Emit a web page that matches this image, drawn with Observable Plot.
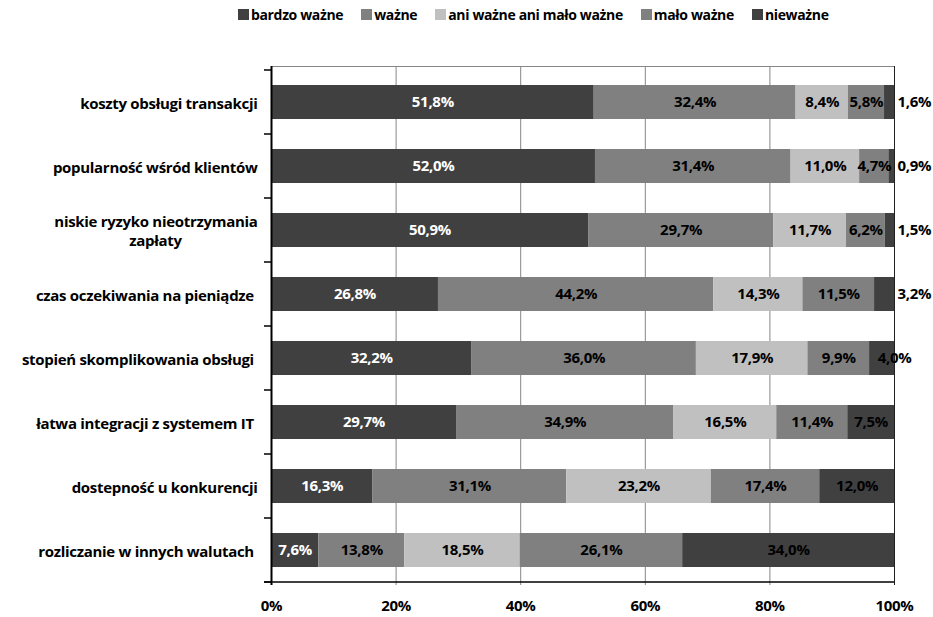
<!DOCTYPE html>
<html>
<head>
<meta charset="utf-8">
<script src="https://cdn.jsdelivr.net/npm/d3@7"></script>
<script src="https://cdn.jsdelivr.net/npm/@observablehq/plot@0.6"></script>
<style>
  html, body { margin: 0; padding: 0; background: #fff; }
  #wrap { position: relative; width: 933px; height: 617px; font-family: "Open Sans", "Noto Sans", sans-serif; }
  #chart { position: absolute; top: 0; left: 0; z-index: 0; }
  #legend { position: absolute; top: 5px; left: 238px; z-index: 1; display: flex; align-items: center; font-weight: bold; font-size: 14px; color: #000; white-space: nowrap; letter-spacing: -0.35px; }
  #legend .item { display: flex; align-items: center; margin-right: 18px; }
  #legend .sw { width: 11px; height: 11px; margin-right: 2px; }
</style>
</head>
<body>
<div id="wrap">
  <div id="chart"></div>
  <div id="legend"></div>
</div>
<script>
// Factors rated by respondents (top to bottom)
const factors = [
  "koszty obsługi transakcji",
  "popularność wśród klientów",
  "niskie ryzyko nieotrzymania\nzapłaty",
  "czas oczekiwania na pieniądze ",
  "stopień skomplikowania obsługi ",
  "łatwa integracji z systemem IT ",
  "dostepność u konkurencji",
  "rozliczanie w innych walutach "
];

// Answer levels and their fills
const levels = ["bardzo ważne", "ważne", "ani ważne ani mało ważne", "mało ważne", "nieważne"];
const levelColors = ["#404040", "#808080", "#c0c0c0", "#808080", "#404040"];

// Shares of answers (%) per factor
const bardzoWazne = [51.8, 52.0, 50.9, 26.8, 32.2, 29.7, 16.3, 7.6];
const wazne       = [32.4, 31.4, 29.7, 44.2, 36.0, 34.9, 31.1, 13.8];
const aniAni      = [8.4, 11.0, 11.7, 14.3, 17.9, 16.5, 23.2, 18.5];
const maloWazne   = [5.8, 4.7, 6.2, 11.5, 9.9, 11.4, 17.4, 26.1];
const niewazne    = [1.6, 0.9, 1.5, 3.2, 4.0, 7.5, 12.0, 34.0];

const xTicks = [0, 20, 40, 60, 80, 100];

const series = [bardzoWazne, wazne, aniAni, maloWazne, niewazne];
const rows = [];
factors.forEach((f, i) => {
  levels.forEach((lvl, j) => {
    rows.push({factor: f, level: lvl, value: series[j][i]});
  });
});

const fmt = v => v.toFixed(1).replace(".", ",") + "%";

// Narrow end segments whose label does not fit inside the bar
const outside = d => d.level === "nieważne" && d.value < 3.5;
const atEdge = d => d.level === "nieważne" && d.value >= 3.5 && d.value < 5;
const inside = d => !outside(d) && !atEdge(d);

const stackOpts = {y: "factor", x: "value", z: "level"};
const font = {fontWeight: "bold", fontSize: 15};

const plot = Plot.plot({
  width: 933,
  height: 617,
  marginTop: 66,
  marginBottom: 32,
  marginLeft: 271,
  marginRight: 39,
  style: {fontFamily: "'Open Sans', 'Noto Sans', sans-serif", fontSize: "15px", fontWeight: "bold", color: "#000", background: "#fff", letterSpacing: "-0.3px"},
  x: {domain: [0, 100], label: null},
  y: {domain: factors, paddingInner: 0.47, paddingOuter: 0.235, label: null},
  color: {domain: levels, range: levelColors},
  marks: [
    Plot.ruleX([20, 40, 60, 80], {stroke: "#868686", strokeWidth: 1}),
    Plot.frame({anchor: "top", stroke: "#868686"}),
    Plot.barX(rows, Plot.stackX({...stackOpts, fill: "level"})),
    Plot.ruleX([100], {stroke: "#202020", strokeWidth: 1}),
    Plot.ruleX([0], {stroke: "#000", strokeWidth: 2}),
    Plot.axisX({ticks: xTicks, tickFormat: d => d + "%", tickSize: 0, tickPadding: 15, label: null, ...font, fill: "#000"}),
    Plot.axisY({tickSize: 0, tickPadding: 14, label: null, lineHeight: 1.25, ...font, fill: "#000"}),
    // labels centred in their segment
    Plot.text(rows, Plot.stackX({
      ...stackOpts,
      filter: inside,
      text: d => fmt(d.value),
      fill: d => d.level === "bardzo ważne" ? "#fff" : "#000",
      ...font
    })),
    // label centred on the bar end
    Plot.text(rows, {
      filter: atEdge, y: "factor", x: () => 100,
      text: d => fmt(d.value), fill: "#000", textAnchor: "middle", ...font
    }),
    // labels placed right after the bar end
    Plot.text(rows, {
      filter: outside, y: "factor", x: () => 100,
      text: d => fmt(d.value), fill: "#000", textAnchor: "start", dx: 3, ...font
    })
  ]
});

// keep trailing spaces of the category names
plot.querySelectorAll("text").forEach(t => t.setAttributeNS("http://www.w3.org/XML/1998/namespace", "xml:space", "preserve"));

document.getElementById("chart").appendChild(plot);

// Category separators on the left axis and the bottom axis line
const svg = d3.select(plot);
const ys = plot.scale("y");
const xs = plot.scale("x");
const step = ys.step;
const bw = ys.bandwidth;
const x0 = xs.apply(0), x100 = xs.apply(100);
const bounds = factors.map(f => ys.apply(f) + bw / 2 - step / 2);
bounds.push(ys.apply(factors[factors.length - 1]) + bw / 2 + step / 2);
const g = svg.append("g");
g.selectAll("line.sep").data(bounds).join("line")
  .attr("x1", x0 - 7).attr("x2", x0).attr("y1", d => d).attr("y2", d => d)
  .attr("stroke", "#000").attr("stroke-width", 1.5);
g.append("line")
  .attr("x1", x0 - 7).attr("x2", x100)
  .attr("y1", bounds[bounds.length - 1]).attr("y2", bounds[bounds.length - 1])
  .attr("stroke", "#000").attr("stroke-width", 1.5);

// Multi-line category labels: centre each line under the longest one
svg.selectAll("text").each(function () {
  const spans = Array.from(this.querySelectorAll("tspan"));
  if (spans.length > 1) {
    spans.forEach(s => s.setAttribute("dx", 0));
    const rects = spans.map(s => s.getBoundingClientRect());
    const widest = rects.reduce((a, b) => (b.width > a.width ? b : a));
    const cx = widest.left + widest.width / 2;
    spans.forEach((s, k) => s.setAttribute("dx", cx - (rects[k].left + rects[k].width / 2)));
  }
});

// Legend
const legend = d3.select("#legend");
levels.forEach((lvl, j) => {
  const item = legend.append("div").attr("class", "item");
  item.append("div").attr("class", "sw").style("background", levelColors[j]);
  item.append("span").text(lvl);
});
</script>
</body>
</html>
